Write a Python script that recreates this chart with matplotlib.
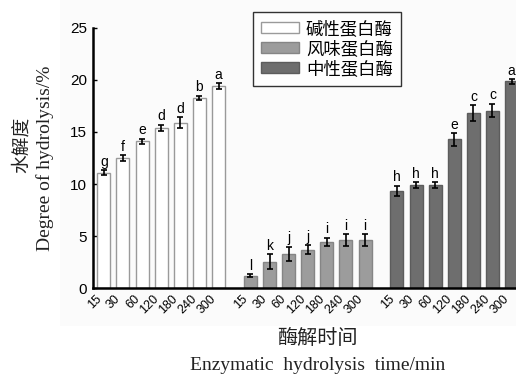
import matplotlib.pyplot as plt
import matplotlib.transforms as mtransforms
from matplotlib.patches import Rectangle, Patch

# times (min) and enzyme groups
times = ['15', '30', '60', '120', '180', '240', '300']
enzymes = ['碱性蛋白酶', '风味蛋白酶', '中性蛋白酶']

alk_mean = [11.1, 12.5, 14.1, 15.4, 15.9, 18.3, 19.4]
alk_err = [0.25, 0.3, 0.25, 0.3, 0.5, 0.2, 0.3]
alk_sig = ['g', 'f', 'e', 'd', 'd', 'b', 'a']

fla_mean = [1.2, 2.55, 3.3, 3.7, 4.45, 4.65, 4.65]
fla_err = [0.15, 0.7, 0.7, 0.45, 0.4, 0.55, 0.55]
fla_sig = ['l', 'k', 'j', 'j', 'i', 'i', 'i']

neu_mean = [9.35, 9.9, 9.9, 14.3, 16.8, 17.05, 19.85]
neu_err = [0.5, 0.3, 0.3, 0.6, 0.75, 0.65, 0.2]
neu_sig = ['h', 'h', 'h', 'e', 'c', 'c', 'a']

means = [alk_mean, fla_mean, neu_mean]
errs = [alk_err, fla_err, neu_err]
sigs = [alk_sig, fla_sig, neu_sig]
faces = ['#ffffff', '#9c9c9c', '#6e6e6e']
edges = ['#9a9a9a', '#858585', '#5c5c5c']

fig = plt.figure(figsize=(5.16, 3.76), dpi=100)
bg = Rectangle((0.116, 0.133), 0.884, 0.867, transform=fig.transFigure,
               facecolor='#fbfbfb', edgecolor='none', zorder=-5)
fig.add_artist(bg)
ax = fig.add_axes([0.180, 0.2332, 0.820, 0.6929])
ax.patch.set_alpha(0)

gap = 7.67
xs_all = []
labels_all = []
for g in range(3):
    xs = [g * gap + i for i in range(len(times))]
    ax.bar(xs, means[g], width=0.68, color=faces[g], edgecolor=edges[g], linewidth=1,
           yerr=errs[g], error_kw=dict(ecolor='black', elinewidth=1.2, capsize=2.5, capthick=1.2),
           zorder=2)
    for x, m, e, s in zip(xs, means[g], errs[g], sigs[g]):
        ax.annotate(s, (x, m + e), xytext=(0, 1), textcoords='offset points',
                    ha='center', va='bottom', fontsize=10, family='Liberation Sans')
    xs_all += xs
    labels_all += times

ax.set_xlim(-0.576, 21.57)
ax.set_ylim(0, 25)
ax.set_yticks([0, 5, 10, 15, 20, 25])
ax.set_xticks(xs_all)
ax.set_xticklabels(labels_all, rotation=45, ha='right', va='top',
                   fontsize=9, family='Liberation Sans')
shift = mtransforms.ScaledTranslation(0.035, 0, fig.dpi_scale_trans)
for t in ax.get_xticklabels():
    t.set_transform(t.get_transform() + shift)
for t in ax.get_yticklabels():
    t.set_family('Liberation Sans')
    t.set_fontsize(11)
ax.tick_params(axis='x', direction='in', length=3, width=0.8, pad=3)
ax.tick_params(axis='y', direction='in', length=3, width=1, pad=4)
ax.spines['top'].set_visible(False)
ax.spines['right'].set_visible(False)
ax.spines['left'].set_linewidth(1.8)
ax.spines['bottom'].set_linewidth(1.8)

handles = [Patch(facecolor=faces[i], edgecolor=edges[i]) for i in range(3)]
leg = ax.legend(handles, enzymes, loc='upper left', bbox_to_anchor=(253 / 516, 1 - 12 / 376),
                bbox_transform=fig.transFigure, frameon=True, fancybox=False,
                borderaxespad=0,
                prop={'family': 'Noto Sans CJK SC', 'size': 12.5},
                handlelength=2.2, handleheight=0.6, labelspacing=0.12, borderpad=0.45,
                handletextpad=0.4)
leg.get_frame().set_edgecolor('black')
leg.get_frame().set_linewidth(1)

fig.text(21 / 516, 1 - 145 / 376, '水解度', rotation=90, ha='center', va='center',
         family='Noto Sans CJK SC', fontsize=13.5, color='#222222')
fig.text(45 / 516, 1 - 158 / 376, 'Degree of hydrolysis/%', rotation=90, ha='center', va='center',
         family='Liberation Serif', fontsize=14, color='#222222')
fig.text(317 / 516, 1 - 338 / 376, '酶解时间', ha='center', va='center',
         family='Noto Sans CJK SC', fontsize=14.5, color='#222222')
fig.text(318 / 516, 1 - 366 / 376, 'Enzymatic  hydrolysis  time/min', ha='center', va='center',
         family='Liberation Serif', fontsize=14, color='#222222')

fig.savefig('out.png', dpi=100)
